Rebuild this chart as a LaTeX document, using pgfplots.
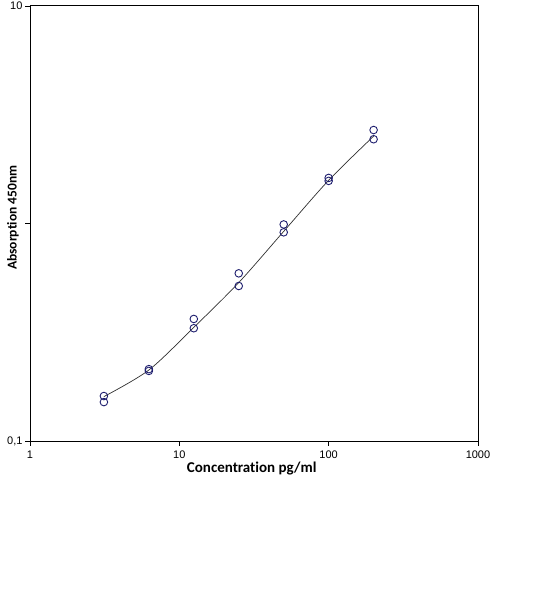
\documentclass[border=0pt]{standalone}
\usepackage{pgfplots}
\pgfplotsset{compat=1.18}
\usepackage{fontspec}
\setmainfont{Liberation Sans}
\newfontfamily\calb{Carlito}[Ligatures=NoCommon]
\definecolor{navy}{HTML}{1E1E6E}
\definecolor{curve}{HTML}{303030}
\begin{document}
\begin{tikzpicture}
\useasboundingbox (0,0) rectangle (546pt,615pt);
\begin{axis}[
    at={(30pt,174pt)}, anchor=south west,
    scale only axis,
    width=448pt, height=435pt,
    xmode=log, ymode=log,
    xmin=1, xmax=1000,
    ymin=0.1, ymax=10,
    xtick={1,10,100,1000},
    xticklabels={1,10,100,1000},
    ytick={0.1,1,10},
    yticklabels={0{,}1,,10},
    xminorticks=false, yminorticks=false,
    xtick pos=bottom, ytick pos=left,
    tick align=outside,
    major tick length=5pt,
    tick style={black, line width=0.8pt},
    axis line style={black, line width=1pt},
    ticklabel style={font=\fontsize{11}{12}\selectfont},
    xticklabel style={yshift=-1.5pt},
    yticklabel style={xshift=1pt},
    /pgf/number format/assume math mode=true,
    xlabel={\calb\bfseries Concentration pg/ml},
    ylabel={\calb\bfseries Absorption 450nm},
    xlabel style={font=\fontsize{15}{16}\selectfont, at={(axis description cs:0.495,0)}, anchor=center, yshift=-28pt},
    ylabel style={font=\fontsize{13.5}{15}\selectfont, at={(axis description cs:-0.038,0.513)}, anchor=center},
    clip=false,
]
% fitted curve
\addplot[curve, line width=0.7pt, smooth, no marks] coordinates {
    (3.125,0.160) (6.25,0.212) (12.5,0.333) (25,0.535)
    (50,0.920) (100,1.58) (200,2.52)
};
% duplicate measurements
\addplot[only marks, mark=o, mark size=3.8pt, navy, mark options={line width=0.9pt}] coordinates {
    (3.125,0.161) (3.125,0.151)
    (6.25,0.214) (6.25,0.210)
    (12.5,0.364) (12.5,0.330)
    (25,0.590) (25,0.516)
    (50,0.990) (50,0.911)
    (100,1.62) (100,1.57)
    (200,2.69) (200,2.44)
};
\end{axis}
\end{tikzpicture}
\end{document}
